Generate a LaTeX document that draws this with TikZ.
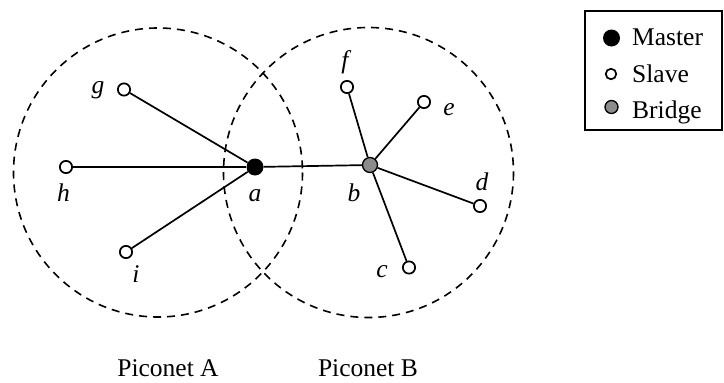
\documentclass[tikz,border=0pt]{standalone}
\usepackage{fontspec}
\setmainfont{Liberation Serif}
\begin{document}
\begin{tikzpicture}[x=1pt,y=-1pt,
  slave/.style={circle,draw,line width=1.7pt,fill=white,inner sep=0pt,minimum size=12.3pt},
  master/.style={circle,fill=black,inner sep=0pt,minimum size=17pt},
  bridge/.style={circle,draw,line width=1.3pt,fill=black!45,inner sep=0pt,minimum size=15pt},
  link/.style={line width=1.7pt},
  coverage/.style={line width=1.6pt,dash pattern=on 8pt off 6pt},
  lbl/.style={font=\fontsize{25.5}{30}\selectfont\itshape,anchor=base,inner sep=0pt},
  txt/.style={font=\fontsize{25.5}{30}\selectfont,anchor=base,inner sep=0pt},
  legtxt/.style={font=\fontsize{25.5}{30}\selectfont,anchor=base west,inner sep=0pt}]
\useasboundingbox (0,0) rectangle (724,383);

% coverage of the two piconets
\draw[coverage] (158,172.5) circle[radius=144.5];
\draw[coverage] (368.5,172.5) circle[radius=145];

% devices
\node[master] (a) at (255,167) {};
\node[bridge] (b) at (370,165) {};
\node[slave] (g) at (124,89.5) {};
\node[slave] (h) at (66,167) {};
\node[slave] (i) at (126,252) {};
\node[slave] (f) at (347,87) {};
\node[slave] (e) at (424,102) {};
\node[slave] (d) at (480,206) {};
\node[slave] (c) at (409,267.5) {};

% links
\draw[link] (a) -- (g);
\draw[link] (a) -- (h);
\draw[link] (a) -- (i);
\draw[link] (a) -- (b);
\draw[link] (b) -- (f);
\draw[link] (b) -- (e);
\draw[link] (b) -- (d);
\draw[link] (b) -- (c);

% device labels
\node[lbl] (la) at (255,201) {a};
\node[lbl] (lb) at (354,201) {b};
\node[lbl] (lc) at (382,277) {c};
\node[lbl] (ld) at (482,190) {d};
\node[lbl] (le) at (449,115) {e};
\node[lbl] (lf) at (345,68) {f};
\node[lbl] (lg) at (98,93.5) {g};
\node[lbl] (lh) at (63.5,201) {h};
\node[lbl] (li) at (136,282) {i};

% piconet names
\node[txt] (pa) at (168,376.5) {Piconet A};
\node[txt] (pb) at (368,376.5) {Piconet B};

% legend
\node[draw,line width=1.8pt,inner sep=0pt,minimum width=137pt,minimum height=119pt,anchor=north west] (legend) at (584,10) {};
\node[master] (km) at (611.5,38) {};
\node[slave,minimum size=10.5pt] (ks) at (611,74) {};
\node[bridge,minimum size=13pt] (kb) at (611.5,107) {};
\node[legtxt] (tm) at (632,45.5) {Master};
\node[legtxt] (ts) at (632,82) {Slave};
\node[legtxt] (tb) at (632,118.5) {Bridge};
\end{tikzpicture}
\end{document}
